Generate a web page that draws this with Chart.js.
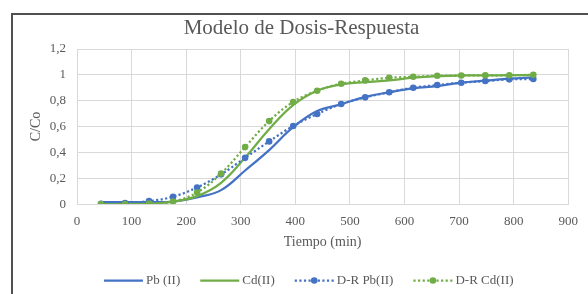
<!DOCTYPE html>
<html>
<head>
<meta charset="utf-8">
<script src="https://cdn.jsdelivr.net/npm/chart.js@4.4.0/dist/chart.umd.min.js"></script>
<style>
  html, body { margin: 0; padding: 0; background: #fff; }
  #marco { position: absolute; left: 11px; top: 13px; width: 620px; height: 320px;
           border-top: 2px solid #505050; border-left: 2px solid #505050; }
  #caja { position: absolute; left: 0; top: 0; width: 588px; height: 294px; }
</style>
</head>
<body>
<div id="marco"></div>
<div id="caja"><canvas id="grafico" width="588" height="294"></canvas></div>
<script>
// Modelo de Dosis-Respuesta — curvas de ruptura Pb(II) y Cd(II)

const tiempo = [44, 88, 132, 176, 220, 264, 308, 352, 396, 440, 484, 528, 572, 616, 660, 704, 748, 792, 836];

// datos experimentales (C/Co)
const pbExp = [0.015, 0.015, 0.015, 0.02, 0.052, 0.108, 0.26, 0.418, 0.595, 0.72, 0.772, 0.83, 0.865, 0.895, 0.913, 0.94, 0.955, 0.97, 0.98];
const cdExp = [0.0, 0.0, 0.002, 0.02, 0.062, 0.165, 0.36, 0.58, 0.766, 0.877, 0.926, 0.944, 0.957, 0.978, 0.99, 0.995, 0.996, 0.997, 0.997];

// modelo Dosis-Respuesta
const drPb = [0.003, 0.008, 0.023, 0.057, 0.129, 0.23, 0.358, 0.485, 0.604, 0.697, 0.774, 0.826, 0.865, 0.9, 0.921, 0.939, 0.952, 0.965, 0.968];
const drCd = [0.0, 0.001, 0.004, 0.02, 0.09, 0.237, 0.441, 0.642, 0.79, 0.877, 0.931, 0.957, 0.977, 0.985, 0.993, 0.995, 0.996, 0.997, 1.0];

const etiquetas = ['Pb (II)', 'Cd(II)', 'D-R Pb(II)', 'D-R Cd(II)'];

const AZUL = '#4472c4';
const VERDE = '#70ad47';
const GRIS_TXT = '#595959';
const GRIS_REJ = '#d9d9d9';
const FUENTE = 'Liberation Serif';

const puntos = (ys) => tiempo.map((t, i) => ({ x: t, y: ys[i] }));

// dibuja las muestras de línea de la leyenda (estilo Excel)
const muestrasLeyenda = {
  id: 'muestrasLeyenda',
  afterDraw(chart) {
    const lg = chart.legend;
    if (!lg || !lg.legendHitBoxes) return;
    const ctx = chart.ctx;
    lg.legendHitBoxes.forEach((hb, i) => {
      const ds = chart.data.datasets[i];
      const y = hb.top + hb.height / 2;
      const x0 = hb.left + 14.5, x1 = hb.left + 53.5;
      ctx.save();
      ctx.strokeStyle = ds.borderColor;
      ctx.lineWidth = ds.borderWidth;
      ctx.setLineDash(ds.borderDash || []);
      ctx.beginPath();
      ctx.moveTo(x0, y);
      ctx.lineTo(x1, y);
      ctx.stroke();
      ctx.setLineDash([]);
      if (ds.pointRadius > 0) {
        ctx.fillStyle = ds.borderColor;
        ctx.beginPath();
        ctx.arc((x0 + x1) / 2, y, ds.pointRadius, 0, Math.PI * 2);
        ctx.fill();
      }
      ctx.restore();
    });
  }
};

new Chart(document.getElementById('grafico'), {
  type: 'line',
  data: {
    datasets: [
      {
        label: etiquetas[0], data: puntos(pbExp),
        borderColor: AZUL, backgroundColor: AZUL, borderWidth: 2.25,
        pointRadius: 0, tension: 0.4, order: 4
      },
      {
        label: etiquetas[1], data: puntos(cdExp),
        borderColor: VERDE, backgroundColor: VERDE, borderWidth: 2.25,
        pointRadius: 0, tension: 0.4, order: 3
      },
      {
        label: etiquetas[2], data: puntos(drPb),
        borderColor: AZUL, backgroundColor: AZUL, borderWidth: 2.25,
        borderDash: [2.2, 2.4], pointRadius: 3.3, pointBorderWidth: 0,
        tension: 0.4, order: 2
      },
      {
        label: etiquetas[3], data: puntos(drCd),
        borderColor: VERDE, backgroundColor: VERDE, borderWidth: 2.25,
        borderDash: [2.2, 2.4], pointRadius: 3.3, pointBorderWidth: 0,
        tension: 0.4, order: 1
      }
    ]
  },
  options: {
    responsive: false,
    animation: false,
    layout: { padding: { left: 15, right: 0, top: 0, bottom: -3 } },
    plugins: {
      title: {
        display: true,
        text: 'Modelo de Dosis-Respuesta',
        color: GRIS_TXT,
        font: { family: FUENTE, size: 21, weight: 'normal' },
        padding: { top: 15.4, bottom: 8.4 }
      },
      legend: {
        position: 'bottom',
        labels: {
          color: GRIS_TXT,
          font: { family: FUENTE, size: 13 },
          boxWidth: 50,
          padding: 5.5,
          generateLabels: (chart) => chart.data.datasets.map((ds, i) => ({
            text: ds.label,
            fillStyle: 'rgba(0,0,0,0)',
            strokeStyle: 'rgba(0,0,0,0)',
            lineWidth: 0,
            hidden: false,
            datasetIndex: i,
            fontColor: GRIS_TXT
          }))
        }
      },
      tooltip: { enabled: false }
    },
    scales: {
      x: {
        type: 'linear',
        min: 0, max: 900,
        ticks: {
          stepSize: 100,
          padding: 10,
          color: GRIS_TXT,
          font: { family: FUENTE, size: 13 }
        },
        grid: { color: GRIS_REJ, drawTicks: false },
        border: { color: GRIS_REJ },
        title: {
          display: true,
          text: 'Tiempo (min)',
          color: GRIS_TXT,
          font: { family: FUENTE, size: 14 },
          padding: { top: -6, bottom: 18 }
        }
      },
      y: {
        type: 'linear',
        min: 0, max: 1.2,
        afterFit: (s) => { s.width = 62; },
        ticks: {
          stepSize: 0.2,
          padding: 11,
          color: GRIS_TXT,
          font: { family: FUENTE, size: 13 },
          callback: (v) => Number(v.toFixed(1)).toString().replace('.', ',')
        },
        grid: { color: GRIS_REJ, drawTicks: false },
        border: { color: GRIS_REJ },
        title: {
          display: true,
          text: 'C/Co',
          color: GRIS_TXT,
          font: { family: FUENTE, size: 14 },
          padding: { top: 13, bottom: 0 }
        }
      },
      // eje vacío a la derecha para dejar el margen del área de trazado
      derecha: {
        type: 'linear',
        axis: 'y',
        position: 'right',
        afterFit: (s) => { s.width = 7; },
        ticks: { display: false },
        grid: { display: false },
        border: { display: false }
      }
    }
  },
  plugins: [muestrasLeyenda]
});
</script>
</body>
</html>
